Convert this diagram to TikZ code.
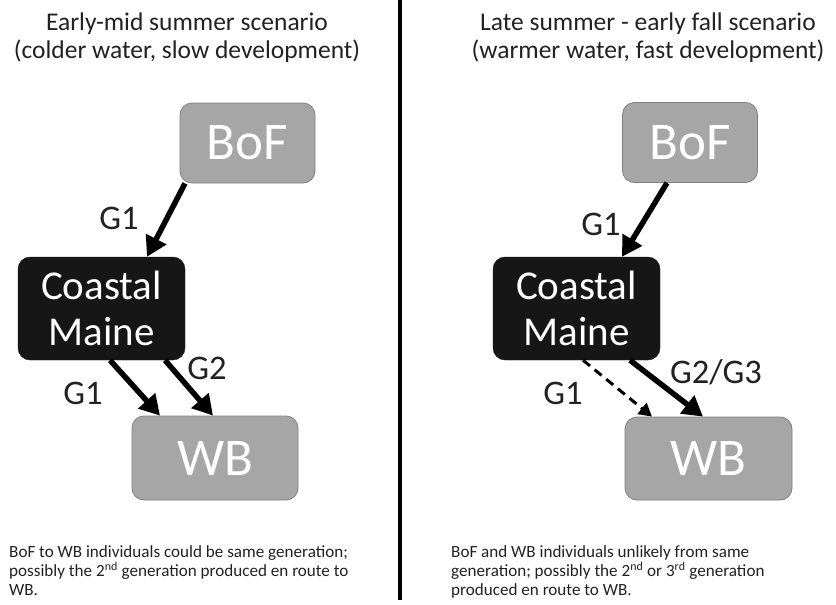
\documentclass[tikz,border=0pt]{standalone}
\usepackage{fontspec}
\setmainfont{Carlito}
\usetikzlibrary{arrows.meta}

\definecolor{boxgray}{HTML}{A6A6A6}
\definecolor{edgegray}{HTML}{808080}
\definecolor{cmblack}{HTML}{161616}
\definecolor{txt}{HTML}{222222}

\begin{document}
\begin{tikzpicture}[x=1pt,y=-1pt,
	graybox/.style={draw=edgegray,line width=0.8pt,fill=boxgray,rounded corners=12pt,text=white,minimum width=135pt,minimum height=80pt,font=\fontsize{53}{53}\selectfont},
	blackbox/.style={draw=cmblack,fill=cmblack,rounded corners=12pt,text=white,align=center,minimum width=167pt,minimum height=103pt,font=\fontsize{41}{46}\selectfont},
	genarrow/.style={line width=5.5pt,-{Triangle[length=20pt,width=22pt]}},
	weakarrow/.style={line width=3pt,dash pattern=on 9pt off 6pt,-{Triangle[length=13pt,width=14pt]}},
	genlabel/.style={text=txt,font=\fontsize{34.5}{34.5}\selectfont},
	title/.style={text=txt,align=center,anchor=base,inner sep=0pt,font=\fontsize{25.5}{28}\selectfont},
	note/.style={text=txt,align=left,anchor=base west,inner sep=0pt,font=\fontsize{17.1}{18.6}\selectfont}]
	\def\w{836} %picture width
	\def\h{605} %picture height
	\fill[white] (0,0) rectangle (\w,\h);
	\useasboundingbox (0,0) rectangle (\w,\h);
	
	%DIVIDER
	\draw[line width=4pt] (400,0)--(400,600);
	
	%TITLES (anchored at last baseline)
	\node[title] (titleL) at (187,58) {Early-mid summer scenario\\(colder water, slow development)};
	\node[title] (titleR) at (648,58) {Late summer - early fall scenario\\(warmer water, fast development)};
	
	%BOXES (left)
	\node[graybox] (bofL) at (247.5,143) {BoF};
	\node[blackbox] (cmL) at (101.5,308.5) {Coastal\\Maine};
	\node[graybox,minimum width=166pt,minimum height=84pt] (wbL) at (215,458) {WB};
	%BOXES (right)
	\node[graybox] (bofR) at (690,142.5) {BoF};
	\node[blackbox] (cmR) at (576.5,308.5) {Coastal\\Maine};
	\node[graybox,minimum width=167pt,minimum height=83pt] (wbR) at (708.5,458.5) {WB};
	
	%ARROWS
	\draw[genarrow] ([xshift=-62.5pt]bofL.south)--([xshift=45.5pt]cmL.north); %BoF to CM
	\draw[genarrow] ([xshift=8.5pt]cmL.south)--([xshift=-55pt]wbL.north); %G1
	\draw[genarrow] ([xshift=63.5pt]cmL.south)--([xshift=-2pt]wbL.north); %G2
	\draw[genarrow] ([xshift=-23pt]bofR.south)--([xshift=45.5pt]cmR.north); %BoF to CM
	\draw[weakarrow] ([xshift=6.5pt]cmR.south)--([xshift=-56.5pt]wbR.north); %G1 dashed
	\draw[genarrow] ([xshift=53.5pt]cmR.south)--([xshift=-5.5pt]wbR.north); %G2/G3
	
	%LABELS
	\node[genlabel] (gL1) at (119,218) {G1};
	\node[genlabel] (gL2) at (83,393) {G1};
	\node[genlabel] (gL3) at (207,368) {G2};
	\node[genlabel] (gR1) at (601,224) {G1};
	\node[genlabel] (gR2) at (563,393) {G1};
	\node[genlabel] (gR3) at (716,372) {G2/G3};
	
	%NOTES (anchored at last baseline)
	\node[note] (noteL) at (9,595) {BoF to WB individuals could be same generation;\\possibly the 2\textsuperscript{nd} generation produced en route to\\WB.};
	\node[note] (noteR) at (451,595) {BoF and WB individuals unlikely from same\\generation; possibly the 2\textsuperscript{nd} or 3\textsuperscript{rd} generation\\produced en route to WB.};
\end{tikzpicture}
\end{document}
